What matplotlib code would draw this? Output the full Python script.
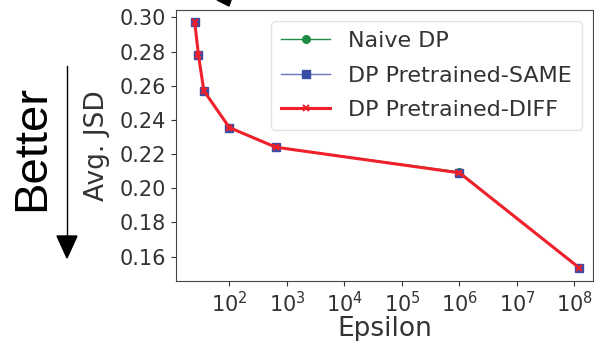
import numpy as np
import matplotlib.pyplot as plt
from matplotlib.patches import Polygon

# data
epsilon = [25, 29, 36, 100, 640, 1.0e6, 1.2e8]
naive_dp = [0.297, 0.278, 0.257, 0.2355, 0.224, 0.2095, 0.1535]
pre_same = [0.297, 0.278, 0.257, 0.2355, 0.224, 0.209, 0.1535]
pre_diff = [0.297, 0.278, 0.257, 0.2355, 0.224, 0.209, 0.1535]
yticks = [0.16, 0.18, 0.20, 0.22, 0.24, 0.26, 0.28, 0.30]

txt = '#333333'
plt.rcParams['font.family'] = 'DejaVu Sans'

fig = plt.figure(figsize=(5.94, 3.41), dpi=100)
ax = fig.add_axes([176/594, 1-281/341, 417/594, 271/341])

ax.plot(epsilon, naive_dp, color='#1e8c45', lw=1, marker='o', ms=5.5, label='Naive DP')
ax.plot(epsilon, pre_same, color='#6678c0', lw=1, marker='s', ms=5.5,
        mfc='#3a4da6', mec='#3a4da6', label='DP Pretrained-SAME')
ax.plot(epsilon, pre_diff, color='#f0202a', lw=2.2, marker='x', ms=5, mew=1.5,
        label='DP Pretrained-DIFF')

ax.set_xscale('log')
ax.set_xlim(11.8, 2.1e8)
ax.set_ylim(0.1457, 0.3043)
ax.set_yticks(yticks)
ax.set_xticks([1e2, 1e3, 1e4, 1e5, 1e6, 1e7, 1e8])
ax.tick_params(labelsize=15, colors=txt, labelcolor=txt)
ax.tick_params(which='minor', colors=txt)
for s in ax.spines.values():
    s.set_color('#444444')

ax.set_xlabel('Epsilon', fontsize=19, color=txt, labelpad=0)
ax.set_ylabel('Avg. JSD', fontsize=19, color=txt, labelpad=7)

leg = ax.legend(loc='upper right', fontsize=16, frameon=True, fancybox=True,
                borderpad=0.45, labelspacing=0.65, handlelength=2.2)
for t in leg.get_texts():
    t.set_color(txt)
leg.get_frame().set_edgecolor('#dddddd')

# "Better" arrow on the left
fig.text(32/594, 1-148/341, 'Better', rotation=90, fontsize=34,
         family='Liberation Sans', ha='center', va='center')
fig.add_artist(plt.Line2D([67/594, 67/594], [1-66/341, 1-240/341],
                          color='black', lw=1, transform=fig.transFigure))
fig.add_artist(Polygon([[57/594, 1-236/341], [77/594, 1-236/341], [67/594, 1-258/341]],
                       closed=True, color='black', transform=fig.transFigure))

# clipped arrow head at the top
fig.add_artist(Polygon([[217/594, 1.0], [231/594, 1.0], [229/594, 1-6/341]],
                       closed=True, color='black', transform=fig.transFigure))

fig.savefig('out.png', dpi=100)
